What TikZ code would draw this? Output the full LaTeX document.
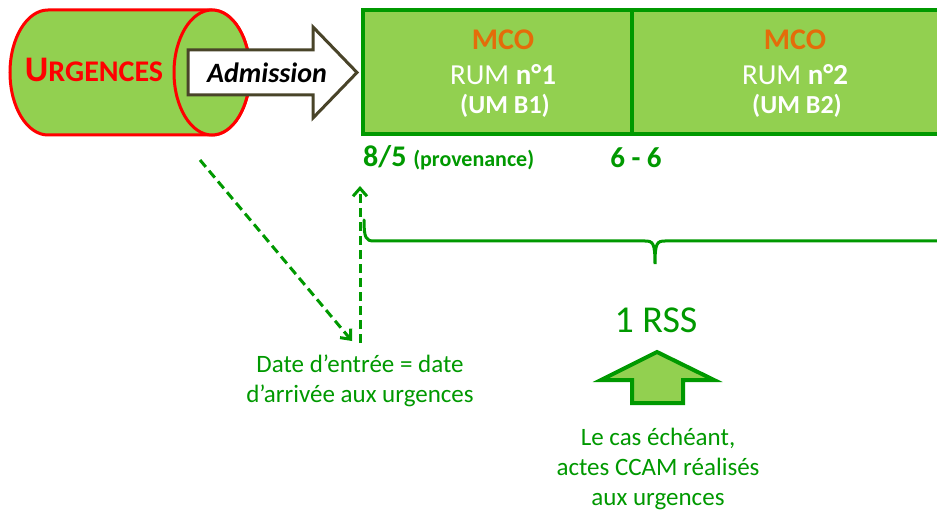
\documentclass[tikz,border=0pt]{standalone}
\usepackage{fontspec}
\setmainfont{Carlito}
\usetikzlibrary{arrows.meta}
\definecolor{gtxt}{RGB}{0,153,0}
\definecolor{lgreen}{RGB}{146,208,80}
\definecolor{orng}{RGB}{228,108,10}
\definecolor{olive}{RGB}{73,68,41}
\tikzset{
  fs/.style={font=\fontsize{#1}{#1}\selectfont},
  lbl/.style={inner sep=0pt, text=gtxt, align=center},
  boxtxt/.style={inner sep=0pt, align=center},
  dashline/.style={draw=gtxt, line width=3pt, dash pattern=on 9pt off 5pt,
    -{Straight Barb[length=8pt,width=14pt,line width=3pt]}},
}
\begin{document}
\begin{tikzpicture}[x=1pt,y=-1pt]
\clip (0,0) rectangle (937,513);
\fill[white] (0,0) rectangle (937,513);
% cylinder
\draw[red, line width=3pt, fill=lgreen]
  (48,10) -- (212,10) arc[start angle=-90, end angle=90, x radius=38, y radius=62.5]
  -- (48,135) arc[start angle=90, end angle=270, x radius=38, y radius=62.5] -- cycle;
\draw[red, line width=3pt, fill=lgreen] (212,72.5) ellipse[x radius=38, y radius=62.5];
\node[boxtxt, text=red, font=\bfseries] (urg) at (94,70)
  {\fontsize{36}{36}\selectfont U\fontsize{30}{30}\selectfont RGENCES};
% admission arrow
\draw[olive, line width=3pt, fill=white, line join=miter]
  (188,50) -- (313,50) -- (313,27) -- (357,72.5) -- (313,118) -- (313,95) -- (188,95) -- cycle;
\node[boxtxt, font=\bfseries\itshape\fontsize{28}{28}\selectfont] (adm) at (267,73) {Admission};
% MCO boxes
\draw[gtxt, line width=4pt, fill=lgreen] (363,10) rectangle (960,134);
\draw[gtxt, line width=4pt] (632,10) -- (632,134);
\node[boxtxt, text=orng, font=\bfseries\fontsize{30}{30}\selectfont] (mco1) at (503,40) {MCO};
\node[boxtxt, text=white, fs=29] (rum1) at (503,75) {RUM \textbf{n°1}};
\node[boxtxt, text=white, font=\bfseries\fontsize{26}{26}\selectfont] (um1) at (505,106) {(UM B1)};
\node[boxtxt, text=orng, font=\bfseries\fontsize{30}{30}\selectfont] (mco2) at (795,40) {MCO};
\node[boxtxt, text=white, fs=29] (rum2) at (795,75) {RUM \textbf{n°2}};
\node[boxtxt, text=white, font=\bfseries\fontsize{26}{26}\selectfont] (um2) at (797,106) {(UM B2)};
% labels below boxes
\node[lbl, anchor=west, font=\bfseries] (eight) at (363,158)
  {\fontsize{30}{30}\selectfont 8/5 \fontsize{22}{22}\selectfont(provenance)};
\node[lbl, font=\bfseries\fontsize{29}{29}\selectfont] (six) at (636,158) {6 - 6};
% dashed arrows
\coordinate (dstart) at (200,160);
\coordinate (dend) at (352,341);
\coordinate (vbot) at (360,343);
\coordinate (vtop) at (360,186);
\draw[dashline] (dstart) -- (dend);
\draw[dashline] (vbot) -- (vtop);
% brace
\coordinate (bl) at (364,220);
\coordinate (bt) at (655,264);
\coordinate (br) at (940,241);
\draw[gtxt, line width=3pt, line cap=round]
  (bl) .. controls (364,238) and (366,241) .. (374,241) -- (645,241)
  .. controls (653,241) and (655,243) .. (bt)
  .. controls (655,243) and (657,241) .. (665,241) -- (br);
% RSS
\node[lbl, fs=38] (rss) at (656,320) {1 RSS};
\draw[gtxt, line width=4pt, fill=lgreen, line join=miter]
  (657,352) -- (714,380) -- (683,380) -- (683,403) -- (632,403) -- (632,380) -- (601,380) -- cycle;
\coordinate (up) at (657,352);
% bottom texts
\node[lbl, fs=25] (date) at (360,381) {Date d’entrée = date\\[5pt]d’arrivée aux urgences};
\node[lbl, fs=25] (ccam) at (658,469) {Le cas échéant,\\[5pt]actes CCAM réalisés\\[5pt]aux urgences};
\end{tikzpicture}
\end{document}
